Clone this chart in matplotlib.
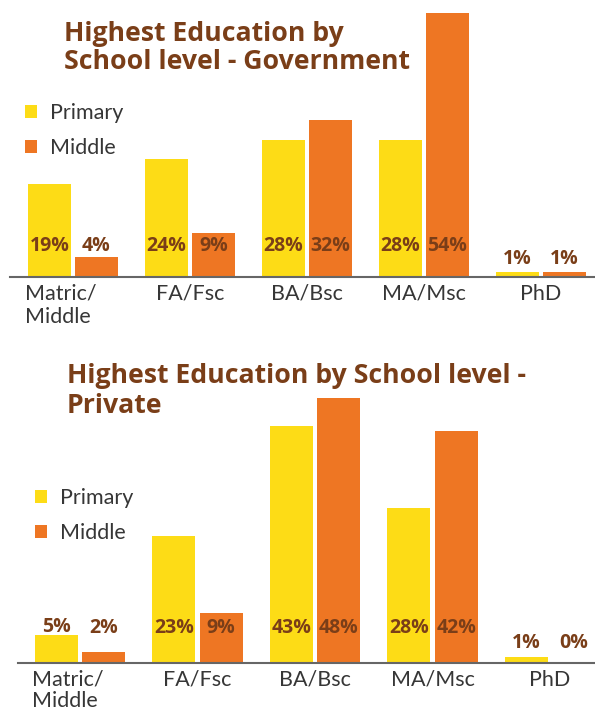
#!/usr/bin/env python3
"""Highest education by school level: government vs private schools."""

import matplotlib as mpl
import matplotlib.pyplot as plt
from matplotlib.patches import Patch
from matplotlib.transforms import ScaledTranslation
import numpy as np

categories = ["Matric/\nMiddle", "FA/Fsc", "BA/Bsc", "MA/Msc", "PhD"]
series = ["Primary", "Middle"]

gov_primary = [19, 24, 28, 28, 1]
gov_middle = [4, 9, 32, 54, 1]

pvt_primary = [5, 23, 43, 28, 1]
pvt_middle = [2, 9, 48, 42, 0]

YELLOW = "#FDDC16"
ORANGE = "#EE7623"
BROWN = "#7A3E18"
TICK = "#363636"
AXLINE = "#666666"

W, H = 595, 711


def px_box(x0, top, x1, bottom):
    # pixel box (from top-left) -> figure fraction rect
    return [x0 / W, (H - bottom) / H, (x1 - x0) / W, (bottom - top) / H]


def label_y(v):
    # labels sit low inside tall bars, just above short ones
    if v < 2:
        return 3.6
    if v >= 8:
        return 6.3
    return max(6.3, v + 1.6)


def draw_panel(ax, prim, mid, ylim, xlim, title_xy, title, spacing, legend_xy,
               tick_spacing):
    x = np.arange(len(categories))
    width = 0.367
    off = 0.201
    ax.bar(x - off, prim, width, color=YELLOW, zorder=2)
    ax.bar(x + off, mid, width, color=ORANGE, zorder=2)
    for xs, vals in ((x - off, prim), (x + off, mid)):
        for xi, v in zip(xs, vals):
            ax.text(xi, label_y(v), f"{v}%", ha="center", va="center",
                    fontsize=14, fontweight="bold", color=BROWN, zorder=3,
                    family=["Open Sans", "DejaVu Sans"])

    ax.set_xlim(*xlim)
    ax.set_ylim(*ylim)
    ax.set_yticks([])
    for s in ("top", "right", "left"):
        ax.spines[s].set_visible(False)
    ax.spines["bottom"].set_color(AXLINE)
    ax.spines["bottom"].set_linewidth(1.5)
    ax.spines["bottom"].set_zorder(4)
    ax.set_xticks(x)
    ax.set_xticklabels(categories, fontsize=15.5, color=TICK,
                       linespacing=tick_spacing)
    ax.tick_params(axis="x", length=0, pad=5)
    first = ax.get_xticklabels()[0]
    first.set_multialignment("left")
    first.set_transform(first.get_transform()
                        + ScaledTranslation(-0.12, 0, ax.figure.dpi_scale_trans))

    fig = ax.figure
    fig.text(title_xy[0] / W, 1 - title_xy[1] / H, title, ha="left", va="top",
             fontsize=19.2, fontweight="bold", color=BROWN, linespacing=spacing,
             family=["Open Sans", "DejaVu Sans"])

    handles = [Patch(facecolor=YELLOW, edgecolor="none"),
               Patch(facecolor=ORANGE, edgecolor="none")]
    fig.legend(handles, series, loc="upper left",
               bbox_to_anchor=(legend_xy[0] / W, 1 - legend_xy[1] / H),
               frameon=False, handlelength=0.55, handleheight=0.55,
               handletextpad=0.6, labelspacing=0.68, borderpad=0, borderaxespad=0,
               prop={"size": 15.5}, labelcolor=TICK)


def main():
    mpl.rcParams["font.family"] = ["Lato", "DejaVu Sans"]
    fig = plt.figure(figsize=(W / 100, H / 100), dpi=100)

    ax1 = fig.add_axes(px_box(10, 7.7, 595, 276.7))
    draw_panel(ax1, gov_primary, gov_middle, (0, 55), (-0.538, 4.462),
               (64, 21), "Highest Education by\nSchool level - Government", 1.12,
               (25, 103), 1.22)

    ax2 = fig.add_axes(px_box(18, 387, 595, 663))
    draw_panel(ax2, pvt_primary, pvt_middle, (0, 50), (-0.528, 4.383),
               (67, 363), "Highest Education by School level -\nPrivate", 1.18,
               (35, 488), 1.08)

    fig.savefig("out.png", dpi=100)


if __name__ == "__main__":
    main()
